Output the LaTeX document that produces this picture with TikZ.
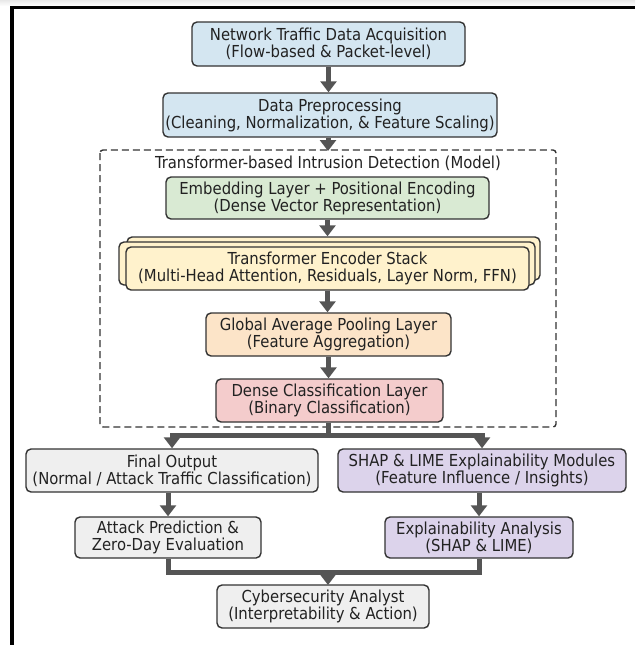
\documentclass[tikz,border=0pt]{standalone}
\usepackage{fontspec}
\setmainfont{DejaVu Sans Condensed}
\usetikzlibrary{arrows.meta}
\definecolor{bluef}{HTML}{D4E6F1}
\definecolor{greenf}{HTML}{D9EAD3}
\definecolor{yellowf}{HTML}{FFF2CC}
\definecolor{peachf}{HTML}{FCE4C8}
\definecolor{pinkf}{HTML}{F4CCCC}
\definecolor{grayf}{HTML}{EFEFEF}
\definecolor{purplef}{HTML}{DCD3EB}
\definecolor{edgec}{HTML}{333333}
\definecolor{arrowc}{HTML}{555555}
\definecolor{textc}{HTML}{222222}
\tikzset{
  box/.style={draw=edgec, line width=1.4pt, rounded corners=5pt, align=center,
    text=textc, inner sep=2pt, font=\fontsize{16.5}{17}\selectfont},
  flow/.style={draw=arrowc, line width=5pt,
    -{Triangle[width=16pt,length=11pt]}},
  flowline/.style={draw=arrowc, line width=5pt},
}
\begin{document}
\begin{tikzpicture}[x=1pt,y=-1pt]
\useasboundingbox (0,0) rectangle (635,645);
\fill[white] (0,0) rectangle (635,645);
\shade[top color=gray!18, bottom color=white] (0,0) rectangle (635,6);
\draw[black, line width=3.2pt] (12,645) -- (12,7.5) -- (635,7.5);

% dashed model frame
\draw[edgec, line width=1.4pt, dash pattern=on 7pt off 4pt, rounded corners=3pt]
  (100,150) rectangle (556,427);
\node[text=textc, font=\fontsize{16.5}{17}\selectfont] (title) at (328,163)
  {Transformer-based Intrusion Detection (Model)};
\coordinate (mtop) at (328,151);

\node[box, fill=bluef, minimum width=273pt, minimum height=44pt] (acq) at (328.5,44)
  {Network Traffic Data Acquisition\\(Flow-based \& Packet-level)};
\node[box, fill=bluef, minimum width=334pt, minimum height=44pt] (pre) at (330,115)
  {Data Preprocessing\\(Cleaning, Normalization, \& Feature Scaling)};
\node[box, fill=greenf, minimum width=323pt, minimum height=42pt] (emb) at (327.5,198)
  {Embedding Layer + Positional Encoding\\(Dense Vector Representation)};
\node[box, fill=yellowf, minimum width=413pt, minimum height=43pt] (stackb) at (333.5,258.5) {};
\node[box, fill=yellowf, minimum width=416pt, minimum height=43pt] (stackm) at (327,263.5) {};
\node[box, fill=yellowf, minimum width=403pt, minimum height=43pt] (stack) at (327.5,268.5)
  {Transformer Encoder Stack\\(Multi-Head Attention, Residuals, Layer Norm, FFN)};
\node[box, fill=peachf, minimum width=245pt, minimum height=43pt] (gap) at (328.5,334.5)
  {Global Average Pooling Layer\\(Feature Aggregation)};
\node[box, fill=pinkf, minimum width=227pt, minimum height=43pt] (dense) at (329.5,400.5)
  {Dense Classification Layer\\(Binary Classification)};
\node[box, fill=grayf, minimum width=292pt, minimum height=43pt] (final) at (172,470.5)
  {Final Output\\(Normal / Attack Traffic Classification)};
\node[box, fill=purplef, minimum width=288pt, minimum height=43pt] (shap) at (482,470.5)
  {SHAP \& LIME Explainability Modules\\(Feature Influence / Insights)};
\node[box, fill=grayf, minimum width=186pt, minimum height=41pt] (attack) at (168,537.5)
  {Attack Prediction \&\\Zero-Day Evaluation};
\node[box, fill=purplef, minimum width=188pt, minimum height=41pt] (expl) at (479,537.5)
  {Explainability Analysis\\(SHAP \& LIME)};
\node[box, fill=grayf, minimum width=212pt, minimum height=43pt] (analyst) at (323,606.5)
  {Cybersecurity Analyst\\(Interpretability \& Action)};

\coordinate (split) at (328,435);
\coordinate (merge) at (328,572);
\coordinate (antop) at (328,585);

% connectors
\draw[flow] (acq.south) -- (acq.south |- pre.north);
\draw[flow] (pre.south -| mtop) -- (mtop);
\draw[flow] (emb.south) -- (emb.south |- stackb.north);
\draw[flow] (stack.south) -- (stack.south |- gap.north);
\draw[flow] (gap.south) -- (gap.south |- dense.north);
\draw[flowline] (dense.south -| split) -- (split);
\draw[flow] (split) -| (final.north);
\draw[flow] (split) -| (shap.north);
\draw[flow] (attack.north |- final.south) -- (attack.north);
\draw[flow] (expl.north |- shap.south) -- (expl.north);
\draw[flowline] (attack.south) |- (merge) -| (expl.south);
\draw[flow] (merge) -- (antop);
\end{tikzpicture}
\end{document}
